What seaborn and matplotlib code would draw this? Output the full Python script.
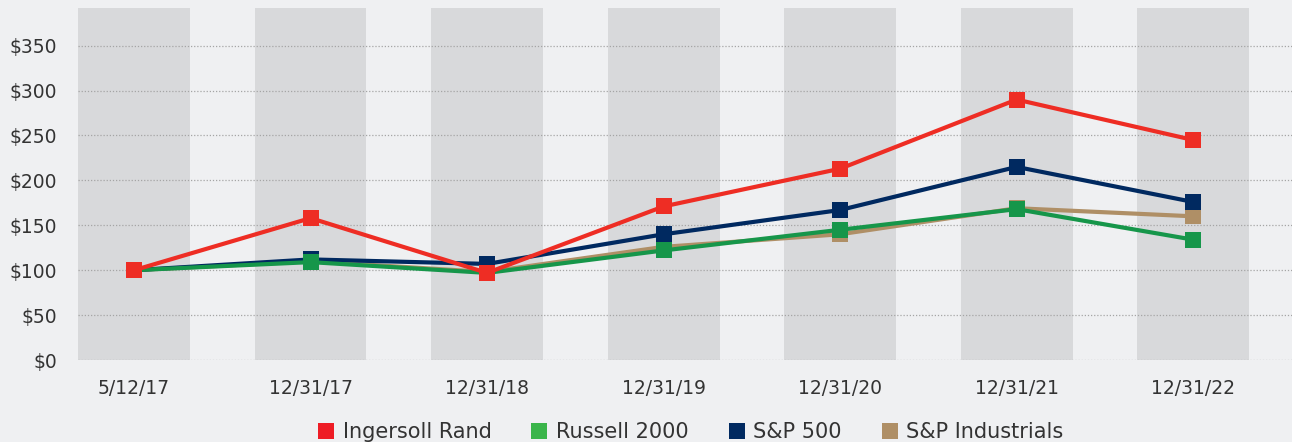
import pandas as pd
import numpy as np
import matplotlib
matplotlib.use('Agg')
import matplotlib.pyplot as plt
import seaborn as sns
from matplotlib.lines import Line2D

# data
dates = ['5/12/17', '12/31/17', '12/31/18', '12/31/19', '12/31/20', '12/31/21', '12/31/22']
ingersoll = [100, 158, 97, 171, 213, 290, 245]
russell = [100, 109, 97, 122, 145, 168, 134]
sp500 = [100, 112, 107, 140, 167, 215, 176]
sp_ind = [100, 110, 98, 126, 140, 169, 160]
y_ticks = [0, 50, 100, 150, 200, 250, 300, 350]

colors = {'Ingersoll Rand': '#EE2D24', 'Russell 2000': '#16964A',
          'S&P 500': '#002960', 'S&P Industrials': '#AF8F66'}
legend_colors = {'Ingersoll Rand': '#EE1C25', 'Russell 2000': '#3AB54A',
                 'S&P 500': '#002960', 'S&P Industrials': '#AF8F66'}

series = {'S&P Industrials': sp_ind, 'S&P 500': sp500,
          'Russell 2000': russell, 'Ingersoll Rand': ingersoll}
df = pd.concat([pd.DataFrame({'pos': range(len(dates)), 'value': v, 'name': k})
                for k, v in series.items()], ignore_index=True)

sns.set_style('white')
plt.rcParams['font.family'] = ['DejaVu Sans']
bg = '#EFF0F2'

fig = plt.figure(figsize=(12.92, 4.42), dpi=100, facecolor=bg)
ax = fig.add_axes([0.0604, 0.1855, 0.9396, 0.7965])
ax.set_facecolor(bg)

# shaded column band behind every date
for i in range(len(dates)):
    ax.axvspan(i - 0.317, i + 0.317, color='#D8D9DB', lw=0, zorder=0)

for y in y_ticks:
    ax.axhline(y, color='#A5A5A5', lw=0.9, ls=(0, (1, 1.5)), zorder=1)

for k in series:
    sns.lineplot(data=df[df['name'] == k], x='pos', y='value', color=colors[k],
                 marker='s', markersize=12, markeredgewidth=0,
                 markeredgecolor=colors[k], lw=3.0, ax=ax, zorder=3, legend=False)

ax.set_xlim(-0.317, 6.56)
ax.set_ylim(0, 392)
ax.set_xticks(range(len(dates)))
ax.set_xticklabels(dates)
ax.set_yticks(y_ticks)
ax.set_yticklabels([f'${v}' for v in y_ticks])
ax.tick_params(axis='x', length=0, pad=14, labelsize=13.5, colors='#333333')
ax.tick_params(axis='y', length=0, pad=15, labelsize=13.5, colors='#333333')
ax.set_xlabel('')
ax.set_ylabel('')
sns.despine(ax=ax, left=True, bottom=True)

handles = [Line2D([], [], ls='', marker='s', markersize=11, markeredgewidth=0,
                  color=legend_colors[k]) for k in legend_colors]
fig.legend(handles, list(legend_colors), loc='center', bbox_to_anchor=(0.535, 0.022),
           ncol=4, frameon=False, fontsize=15, handletextpad=0.45, columnspacing=1.95,
           handlelength=0.7, labelcolor='#333333')

fig.savefig('out.png', dpi=100, facecolor=bg)
